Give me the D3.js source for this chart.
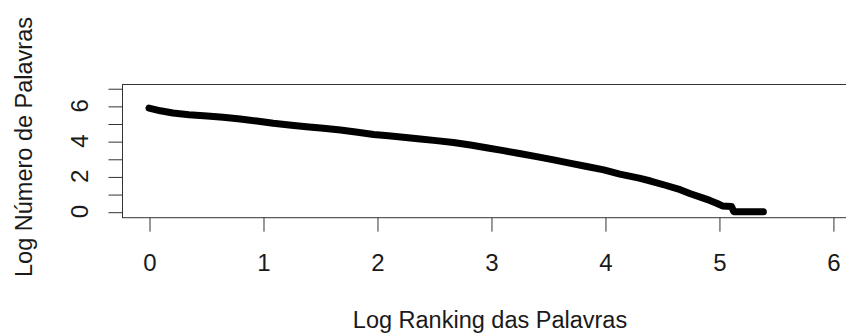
<!DOCTYPE html>
<html>
<head>
<meta charset="utf-8">
<script src="https://cdn.jsdelivr.net/npm/d3@7"></script>
<style>
  html, body { margin: 0; padding: 0; background: #fff; }
  svg { display: block; }
  text { font-family: "Liberation Sans", Arial, sans-serif; fill: #1a1a1a; }
</style>
</head>
<body>
<svg id="chart" width="846" height="333"></svg>
<script>
// log10 of word rank vs log10 of word count (Zipf curve)
const logRank = [0.00, 0.10, 0.21, 0.35, 0.51, 0.65, 0.80, 0.945, 1.09, 1.25, 1.38, 1.53,
  1.68, 1.83, 1.97, 2.10, 2.23, 2.38, 2.52, 2.67, 2.82, 2.96, 3.11, 3.25, 3.40, 3.55,
  3.69, 3.84, 3.99, 4.13, 4.30, 4.40, 4.53, 4.66, 4.75, 4.85, 4.92, 4.98, 5.03, 5.11,
  5.13, 5.39];
const logCount = [5.87, 5.72, 5.60, 5.50, 5.43, 5.35, 5.26, 5.14, 5.01, 4.90, 4.82, 4.73,
  4.63, 4.50, 4.38, 4.30, 4.22, 4.12, 4.03, 3.92, 3.78, 3.63, 3.46, 3.30, 3.12, 2.94,
  2.75, 2.56, 2.37, 2.13, 1.90, 1.74, 1.50, 1.25, 1.02, 0.80, 0.64, 0.48, 0.33, 0.301,
  0.00, 0.00];

const xTicks = [0, 1, 2, 3, 4, 5, 6];
const yTicks = [0, 1, 2, 3, 4, 5, 6, 7];
const yLabels = [0, 2, 4, 6];

const xTitle = "Log Ranking das Palavras";
const yTitle = "Log Número de Palavras";

const svg = d3.select("#chart");
const plotLeft = 122, plotRight = 858, plotTop = 84, plotBottom = 217.7;

const x = d3.scaleLinear().domain([-0.237, 6.22]).range([plotLeft, plotRight]);
const y = d3.scaleLinear().domain([-0.34, 7.24]).range([plotBottom, plotTop]);

const points = logRank.map((r, i) => [r, logCount[i]]);

// curve
svg.append("path")
  .datum(points)
  .attr("fill", "none")
  .attr("stroke", "#000")
  .attr("stroke-width", 7)
  .attr("stroke-linecap", "round")
  .attr("stroke-linejoin", "round")
  .attr("d", d3.line().x(d => x(d[0])).y(d => y(d[1])));

// plot box
svg.append("rect")
  .attr("x", plotLeft + 0.5).attr("y", plotTop + 0.5)
  .attr("width", plotRight - plotLeft).attr("height", plotBottom - plotTop - 0.5)
  .attr("fill", "none").attr("stroke", "#333").attr("stroke-width", 1);

// x axis
const gx = svg.append("g")
  .attr("transform", `translate(0.5,${plotBottom})`)
  .call(d3.axisBottom(x).tickValues(xTicks).tickSize(14).tickSizeOuter(0).tickPadding(22)
    .tickFormat(d3.format("d")));
gx.select(".domain").remove();
gx.selectAll(".tick line").attr("stroke", "#333");
gx.selectAll(".tick text")
  .style("font-size", "24px")
  .attr("fill", "#1a1a1a")
  .attr("font-family", null);

// y axis
const gy = svg.append("g")
  .attr("transform", `translate(${plotLeft + 0.5},0.5)`)
  .call(d3.axisLeft(y).tickValues(yTicks).tickSize(14).tickSizeOuter(0).tickFormat(""));
gy.select(".domain").remove();
gy.selectAll(".tick line").attr("stroke", "#333");

svg.selectAll(".ylab")
  .data(yLabels)
  .join("text")
  .attr("class", "ylab")
  .attr("transform", d => `translate(87.5,${y(d)}) rotate(-90)`)
  .attr("text-anchor", "middle")
  .style("font-size", "24px")
  .text(d => d);

// titles
svg.append("text")
  .attr("x", (plotLeft + plotRight) / 2).attr("y", 328)
  .attr("text-anchor", "middle")
  .style("font-size", "23.5px")
  .text(xTitle);

svg.append("text")
  .attr("transform", `translate(32,147) rotate(-90)`)
  .attr("text-anchor", "middle")
  .style("font-size", "23.5px")
  .text(yTitle);
</script>
</body>
</html>
